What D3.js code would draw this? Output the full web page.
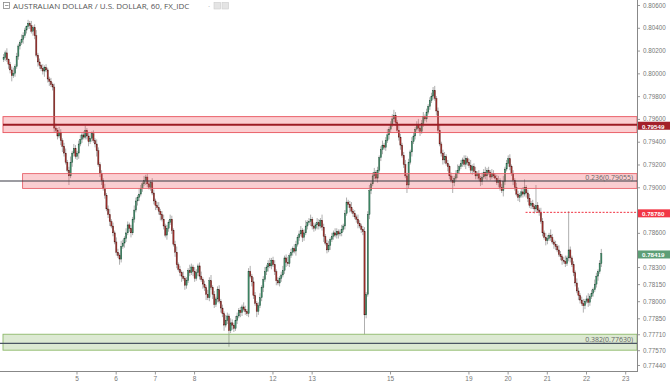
<!DOCTYPE html>
<html>
<head>
<meta charset="utf-8">
<script src="https://cdn.jsdelivr.net/npm/d3@7"></script>
<style>
  body { margin: 0; background: #fff; }
  svg { display: block; font-family: "Open Sans", "Liberation Sans", sans-serif; }
</style>
</head>
<body>
<svg id="chart" width="670" height="387"></svg>
<script>
//AUD/USD hourly closes, in pips (price x 10000)
const closePips = [
  8014,8018,8012,8008,8003,7998,8000,8006,8015,8024,
  8027,8030,8033,8038,8041,8044,8042,8037,8040,8033,
  8016,8010,8007,8004,8002,8005,8003,7995,7993,7990,
  7988,7952,
  7950,7945,7948,7941,7936,7930,7922,7915,7910,7922,
  7930,7934,7927,7930,7938,7942,7946,7944,7950,7945,
  7940,7943,7947,7941,7938,7932,7920,7912,7906,7899,
  7893,7881,7876,7870,7866,7860,7852,7843,7840,7837,
  7848,7851,7855,7860,7867,7864,7860,7872,7880,7888,
  7891,7894,7899,7903,7906,7909,7903,7900,7904,
  7895,7888,7884,7882,7879,7876,7872,7866,7858,7864,
  7869,7872,7862,7850,7843,7832,7828,7825,7822,7820,
  7814,7818,7827,7825,7830,7826,7820,7825,7831,7822,
  7819,7815,7812,7806,7803,7818,7812,7806,7797,7802,
  7810,7800,7794,7789,7779,7783,7787,7774,7781,7779,
  7776,7783,7787,7792,7790,7795,7793,7791,7789,7826,
  7822,7817,7805,7798,7791,7796,7803,7812,7819,7826,
  7830,7833,7831,7836,7832,7826,7818,7816,7820,7823,
  7827,7838,7834,7833,7840,7843,7846,7844,7850,7856,
  7859,7862,7856,7860,7866,7869,7870,7872,7866,7864,
  7867,7869,7866,7871,7865,7857,7851,7845,7849,7854,
  7857,7860,7858,7861,7859,7860,7863,7866,7877,7887,
  7885,7882,7879,7877,7874,7872,7868,7866,7863,7861,
  7788,7806,7876,7897,7903,7910,7913,7908,7915,7926,
  7933,7937,7935,7941,7946,7951,7955,7960,7963,7957,
  7950,7944,7937,7928,7920,7910,7902,7922,7931,7940,
  7945,7951,7955,7952,7949,7956,7962,7960,7966,7971,
  7976,7980,7985,7978,7967,7950,7938,7930,7924,7927,
  7921,7918,7910,7906,7904,7908,7912,7915,7918,7921,
  7924,7920,7925,7922,7919,7915,7918,7914,7910,7912,
  7908,7905,7909,7913,7910,7915,7913,7909,7912,7910,
  7908,7904,7906,7900,7897,7905,7916,7921,7925,7918,
  7912,7906,7900,7894,7891,7893,7896,7894,7900,7895,
  7890,7884,7886,7883,7881,7884,7880,7878,7870,7860,
  7856,7853,7855,7858,7856,7852,7850,7848,7845,7841,
  7839,7836,7835,7833,7838,7845,7838,7832,7825,7816,
  7809,7805,7801,7798,7796,7800,7802,7799,7804,7807,
  7810,7815,7822,7826,7833,7841.9
]
const firstOpen = 8012

//wick lengths above / below the body, in pips
const wickHi = [
  3,2,4,1,2,3,5,2,3,2, 2,4,3,2,1,3,2,4,2,3, 5,2,3,1,4,2,3,2,2,3, 2,3,4,2,5,3,2,3,4,2,
  3,5,2,4,3,2,3,4,2,3, 4,2,3,5,2,3,2,4,3,2, 3,2,4,2,3,5,2,3,2,4, 3,2,5,3,2,4,3,2,3,2,
  4,3,2,5,3,2,4,2,3,3, 2,4,3,2,3,5,2,3,4,2, 3,2,4,3,2,3,5,2,3,2, 4,2,3,2,5,3,2,4,3,2,
  3,4,2,3,2,4,3,5,2,3, 2,3,4,2,3,2,5,3,2,4, 3,2,4,3,2,3,2,4,3,2, 3,5,2,4,3,2,3,4,2,3,
  4,2,3,5,2,3,4,2,3,2, 3,4,2,3,5,2,3,2,4,3, 2,3,4,2,3,5,2,3,4,2, 3,2,4,3,2,5,3,2,3,4,
  2,3,2,4,3,2,3,4,2,3, 4,2,3,5,2,3,2,4,3,2, 3,4,2,3,5,2,3,4,2,3, 2,3,4,2,3,5,2,3,4,5,
  3,2,4,3,2,3,4,2,3,2, 4,3,2,3,5,2,3,4,2,3, 2,3,3,3,4,2,3,5,2,3, 4,2,3,2,3,4,2,3,5,2,
  3,2,4,3,2,3,5,2,3,4, 2,3,2,4,3,5,2,3,2,4, 3,2,3,4,2,3,5,2,3,3, 4,2,3,2,4,3,2,3,4,7,
  2,3,4,2,3,2,18,3,2,4, 3,2,4,3,2,5,3,2,3,2, 4,3,2,3,5,2,34,3,2,3, 2,4,3,2,3,4,2,3,5,2,
  3,2,4,3,2,3,4
]
const wickLo = [
  2,3,2,4,3,5,2,3,2,3, 3,2,4,2,3,2,3,2,4,3, 2,4,3,2,3,5,2,3,4,2, 3,4,2,3,2,4,5,3,2,2,
  8,2,4,3,2,3,5,2,3,2, 2,3,4,2,3,2,3,5,2,3, 4,2,3,2,3,4,2,3,2,3, 2,5,3,2,4,3,2,3,4,2,
  3,2,4,3,2,3,2,4,3,2, 3,2,3,4,2,3,5,2,3,2, 4,3,2,3,2,4,3,2,3,5, 2,4,3,2,3,2,4,3,2,3,
  3,2,4,3,5,2,3,2,4,3, 2,3,2,4,3,5,2,3,14,2, 4,3,2,3,2,4,3,2,3,2, 3,2,4,3,2,5,3,2,3,4,
  2,3,4,2,3,2,3,4,2,3, 3,2,3,4,2,3,2,3,2,4, 2,3,2,4,3,2,3,2,4,3, 3,2,4,3,2,3,5,2,3,2,
  4,2,3,2,3,4,2,3,2,3, 2,3,4,2,3,2,3,4,2,3, 3,17,3,2,4,3,2,3,2,4, 2,3,4,2,3,2,4,3,2,3,
  3,2,3,4,2,3,2,7,3,2, 4,2,3,2,3,4,2,3,2,3, 2,3,2,3,2,4,3,2,3,4, 3,2,4,3,2,9,3,2,4,3,
  2,3,2,4,3,2,3,4,2,3, 3,2,4,3,2,3,4,2,3,2, 2,3,2,4,3,2,5,3,2,3, 3,2,4,3,2,3,4,2,3,2,
  4,3,2,3,2,4,3,2,3,2, 3,2,4,3,2,3,2,4,3,2, 2,3,4,2,3,2,3,4,2,3, 3,2,4,3,2,6,3,2,4,3,
  2,3,2,3,4,2,3
]

//axis ticks
const dayLabels = ["5","6","7","8","12","13","15","19","20","21","22","23"]
const dayOffsets = [0,1,2,3,5,6,8,10,11,12,13,14] //trading days after the 5th
const firstDayBar = 45 //bar index of the 5th 00:00
const priceTicks = [0.806,0.804,0.802,0.800,0.798,0.796,0.794,0.792,0.790,0.786,0.783,0.7815,0.780,0.7785,0.7771,0.7757,0.7744]

//drawings
const resistZone = [0.7948, 0.7962], resistLevel = 0.79549
const fib236Zone = [0.7899, 0.7912], fib236 = 0.79055, fib236Start = 12
const fib382Zone = [0.7757, 0.7771], fib382 = 0.7763
const rayLevel = 0.7878, rayStart = 320

const svg = d3.select("#chart")
  , axisX = 637
  , axisY = 371.5
  , axisFont = "'Liberation Sans', Arial, sans-serif"

const x = d3.scaleLinear().domain([0, 381]).range([3, 625.2])
const y = d3.scaleLinear().domain([0.7744, 0.806]).range([365, 5])

const candles = closePips.map((c, i) => {
  const o = i ? closePips[i - 1] : firstOpen
  return {
    i: i,
    o: o / 1e4,
    c: c / 1e4,
    h: (Math.max(o, c) + wickHi[i]) / 1e4,
    l: (Math.min(o, c) - wickLo[i]) / 1e4
  }
})

//title
const title = svg.append("g")
title.append("rect").attr("x", 3.5).attr("y", 2.5).attr("width", 6).attr("height", 6)
  .attr("fill", "none").attr("stroke", "#888").attr("stroke-width", 0.8)
title.append("line").attr("x1", 5).attr("x2", 8.5).attr("y1", 5.5).attr("y2", 5.5)
  .attr("stroke", "#888").attr("stroke-width", 0.8)
title.append("text").attr("x", 13).attr("y", 9)
  .attr("font-size", 8).attr("fill", "#555")
  .text("AUSTRALIAN DOLLAR / U.S. DOLLAR, 60, FX_IDC")
title.append("text").attr("x", 208).attr("y", 9).attr("font-size", 8).attr("fill", "#aaa").text("·")
title.selectAll("rect.btn").data([214, 222]).enter().append("rect").attr("class", "btn")
  .attr("x", d => d).attr("y", 2.5).attr("width", 6.5).attr("height", 6.5)
  .attr("fill", "#e4e4e4").attr("stroke", "#ccc").attr("stroke-width", 0.6)

//candles
const plot = svg.append("g")
plot.selectAll(".wick").data(candles).enter().append("line").attr("class", "wick")
  .attr("x1", d => x(d.i) + 0.6).attr("x2", d => x(d.i) + 0.6)
  .attr("y1", d => y(d.h)).attr("y2", d => y(d.l))
  .attr("stroke", "#9a9a9a").attr("stroke-width", 0.8)

plot.selectAll(".body").data(candles).enter().append("rect").attr("class", "body")
  .attr("x", d => x(d.i))
  .attr("width", 1.25)
  .attr("y", d => y(Math.max(d.o, d.c)))
  .attr("height", d => Math.max(0.8, Math.abs(y(d.o) - y(d.c))))
  .attr("fill", d => d.c >= d.o ? "#3f8c68" : "#a1302c")
  .attr("stroke", d => d.c >= d.o ? "#1f4d38" : "#4d1512")
  .attr("stroke-width", 0.35)

//zones drawn over the candles (semi transparent like the original)
const zoneLayer = svg.append("g")
const band = (lo, hi, x0, fill, edge) => {
  zoneLayer.append("rect").attr("x", x0).attr("y", y(hi))
    .attr("width", axisX - x0).attr("height", y(lo) - y(hi))
    .attr("fill", fill).attr("stroke", edge).attr("stroke-width", 0.9)
}
band(resistZone[0], resistZone[1], 3, "rgba(240,80,90,0.28)", "#e8545d")
band(fib236Zone[0], fib236Zone[1], x(fib236Start), "rgba(240,80,90,0.28)", "#e8646c")
band(fib382Zone[0], fib382Zone[1], 3, "rgba(120,170,80,0.26)", "#8db96a")

zoneLayer.append("line").attr("x1", 3).attr("x2", axisX)
  .attr("y1", y(resistLevel)).attr("y2", y(resistLevel))
  .attr("stroke", "#9d1c24").attr("stroke-width", 1.8)
zoneLayer.append("line").attr("x1", 0).attr("x2", axisX)
  .attr("y1", y(fib236)).attr("y2", y(fib236))
  .attr("stroke", "#3a3a44").attr("stroke-width", 1.1)
zoneLayer.append("line").attr("x1", 0).attr("x2", axisX)
  .attr("y1", y(fib382)).attr("y2", y(fib382))
  .attr("stroke", "#4a5563").attr("stroke-width", 1.1)
zoneLayer.append("line").attr("x1", x(rayStart)).attr("x2", axisX)
  .attr("y1", y(rayLevel)).attr("y2", y(rayLevel))
  .attr("stroke", "#f0303f").attr("stroke-width", 1).attr("stroke-dasharray", "2,1.5")

const fibFmt = d3.format(".5f")
zoneLayer.append("text").attr("x", 633).attr("y", y(fib236) - 1.5).attr("text-anchor", "end")
  .attr("font-size", 7).attr("fill", "#666").text("0.236(" + fibFmt(fib236) + ")")
zoneLayer.append("text").attr("x", 633).attr("y", y(fib382) - 1.5).attr("text-anchor", "end")
  .attr("font-size", 7).attr("fill", "#666").text("0.382(" + fibFmt(fib382) + ")")

//axes
const yAxis = d3.axisRight(y).tickValues(priceTicks).tickSize(3).tickPadding(3).tickFormat(d3.format(".5f"))
const yg = svg.append("g").attr("transform", "translate(" + axisX + ",0)").call(yAxis)
yg.select(".domain").remove()
yg.selectAll("line").attr("stroke", "#999")
yg.selectAll("text").attr("font-size", 6.3).attr("fill", "#777").attr("font-family", axisFont)

const xAxis = d3.axisBottom(x).tickValues(dayOffsets.map(k => firstDayBar + 24 * k))
  .tickFormat((d, i) => dayLabels[i]).tickSize(3).tickPadding(1.5)
const xg = svg.append("g").attr("transform", "translate(0," + axisY + ")").call(xAxis)
xg.select(".domain").remove()
xg.selectAll("line").attr("stroke", "#999")
xg.selectAll("text").attr("font-size", 6.5).attr("fill", "#777").attr("font-family", axisFont)

svg.append("line").attr("x1", axisX + 0.5).attr("x2", axisX + 0.5).attr("y1", 0).attr("y2", axisY)
  .attr("stroke", "#888").attr("stroke-width", 1)
svg.append("line").attr("x1", 0).attr("x2", axisX + 1).attr("y1", axisY).attr("y2", axisY)
  .attr("stroke", "#888").attr("stroke-width", 1)

//price markers on the axis
const lastClose = closePips[closePips.length - 1] / 1e4
const markers = [
  {v: resistLevel, bg: "#a3202a"},
  {v: rayLevel, bg: "#f23645"},
  {v: lastClose, bg: "#5d9e76"}
]
const mk = svg.selectAll(".marker").data(markers).enter().append("g").attr("class", "marker")
  .attr("transform", d => "translate(" + (axisX + 1) + "," + y(d.v) + ")")
mk.append("rect").attr("x", 0).attr("y", -3).attr("width", 32).attr("height", 8).attr("fill", d => d.bg)
mk.append("text").attr("x", 4).attr("y", 4).attr("font-size", 6.2).attr("fill", "#fff")
  .attr("font-family", axisFont).attr("font-weight", "bold").text(d => d3.format(".5f")(d.v))
</script>
</body>
</html>
